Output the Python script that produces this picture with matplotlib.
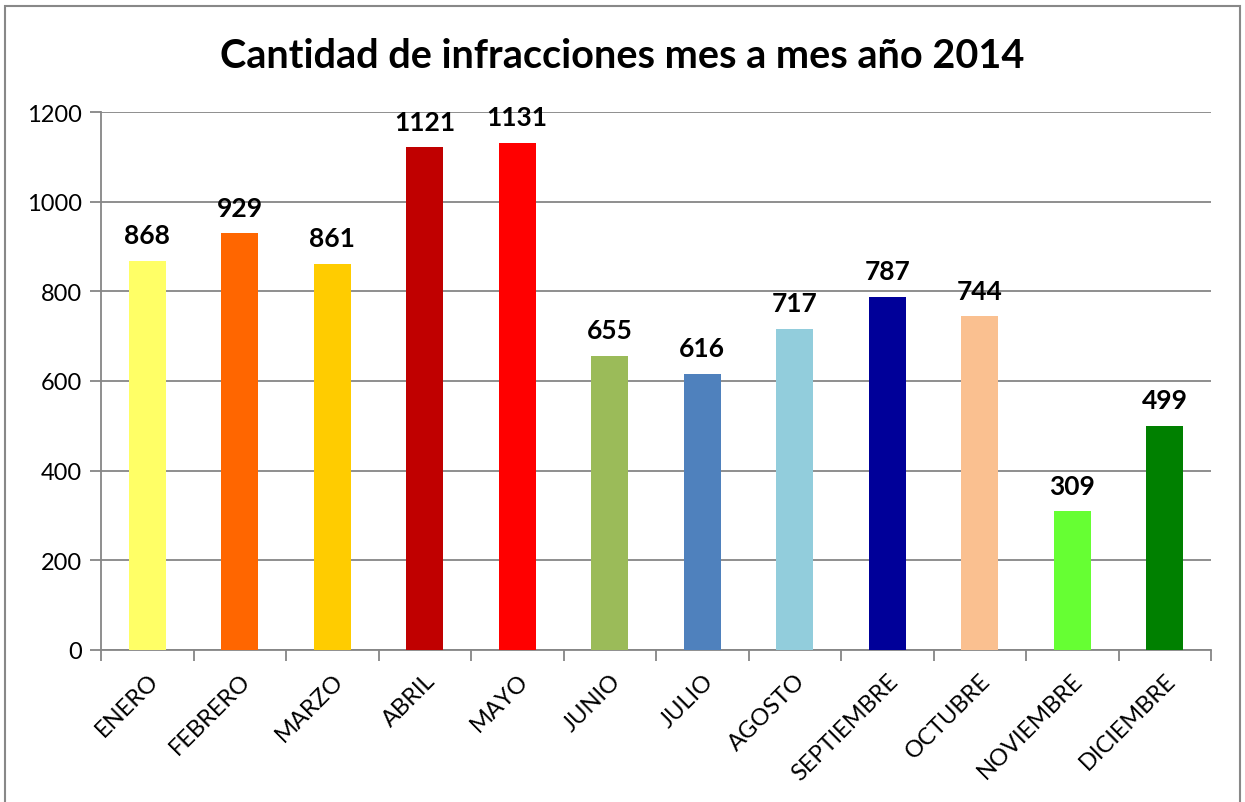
import matplotlib.pyplot as plt
from matplotlib.patches import Rectangle

meses = ["ENERO", "FEBRERO", "MARZO", "ABRIL", "MAYO", "JUNIO", "JULIO",
         "AGOSTO", "SEPTIEMBRE", "OCTUBRE", "NOVIEMBRE", "DICIEMBRE"]
infracciones = [868, 929, 861, 1121, 1131, 655, 616, 717, 787, 744, 309, 499]
colores = ["#FFFF66", "#FF6600", "#FFCC00", "#C00000", "#FF0000", "#9BBB59",
           "#4F81BD", "#92CDDC", "#000099", "#FAC090", "#66FF33", "#008000"]

plt.rcParams['font.family'] = ['Lato', 'DejaVu Sans']

fig = plt.figure(figsize=(12.45, 8.03), dpi=100)
fig.patches.append(Rectangle((5 / 1245, -0.01), 1235 / 1245, 1 - 7 / 803 + 0.01,
                             transform=fig.transFigure, fill=False,
                             edgecolor="#888888", linewidth=1.5))
ax = fig.add_axes([101 / 1245, 1 - 651 / 803, 1110 / 1245, 538 / 803])

x = list(range(len(meses)))
bars = ax.bar(x, infracciones, width=0.4, color=colores, zorder=3)
for xi, v in zip(x, infracciones):
    ax.annotate(str(v), (xi, v), xytext=(0, 10), textcoords="offset points",
                ha="center", va="bottom", fontsize=19, fontweight="bold")

ax.set_xlim(-0.5, 11.5)
ax.set_ylim(0, 1200)
ax.set_yticks(range(0, 1201, 200))
ax.grid(axis="y", color="#868686", linewidth=1.3, zorder=0)
ax.set_xticks(x)
ax.set_xticklabels(meses, rotation=45, ha="right", rotation_mode="anchor", fontsize=17)
ax.set_xticks([i - 0.5 for i in range(13)], minor=True)
ax.tick_params(axis="x", which="major", length=0, pad=14)
ax.tick_params(axis="x", which="minor", length=8, width=1.3, color="#868686")
ax.tick_params(axis="y", length=8, width=1.3, color="#868686", labelsize=17, pad=6)

for s in ["top", "right"]:
    ax.spines[s].set_visible(False)
for s in ["left", "bottom"]:
    ax.spines[s].set_color("#868686")
    ax.spines[s].set_linewidth(1.3)

fig.text(622 / 1245, 1 - 57 / 803, "Cantidad de infracciones mes a mes año 2014",
         ha="center", va="center", fontsize=28.5, fontweight="bold")

fig.savefig("out.png", dpi=100)
